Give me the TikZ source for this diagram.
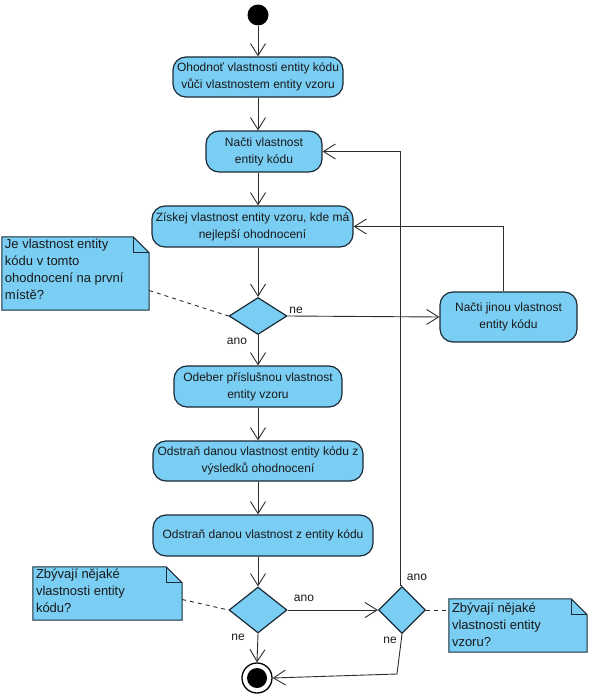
\documentclass[tikz,border=0pt]{standalone}
\usepackage{fontspec}
\setmainfont{Liberation Sans}
\usetikzlibrary{shapes.geometric,arrows.meta,calc}
\definecolor{fillc}{RGB}{122,205,243}
\definecolor{edgec}{RGB}{26,42,54}
\definecolor{linec}{RGB}{45,45,45}
\definecolor{txtc}{RGB}{25,25,25}
\begin{document}
\begin{tikzpicture}[x=1pt,y=-1pt,
  act/.style={draw=edgec, line width=1.2pt, fill=fillc, rounded corners=13pt, align=center,
    font=\fontsize{12}{17}\selectfont, text=txtc, inner sep=0pt},
  dec/.style={draw=edgec, line width=1.2pt, fill=fillc, diamond, inner sep=0pt},
  flow/.style={draw=linec, line width=0.9pt, -{Straight Barb[length=12pt,width=15pt,line width=0.9pt]}},
  lbl/.style={font=\fontsize{12}{14}\selectfont, text=txtc, inner sep=0pt},
  notebg/.style={inner sep=0pt},
  noteline/.style={draw=edgec, line width=1pt, fill=fillc},
  notetxt/.style={font=\fontsize{13}{17}\selectfont, align=left, anchor=north west, inner sep=0pt, text=txtc},
  notelink/.style={draw=linec, line width=0.9pt, dash pattern=on 4pt off 4pt}]
\useasboundingbox (0,0) rectangle (593,700);
\coordinate (axis) at (258,0);

% start / end
\node[circle, fill=black, minimum size=21pt, inner sep=0pt] (st) at (258,15) {};
\node[circle, draw=black, line width=1.3pt, fill=white, minimum size=30pt, inner sep=0pt] (en) at (257,678) {};
\node[circle, fill=black, minimum size=20pt, inner sep=0pt] (enin) at (en) {};

% activities
\node[act, minimum width=170pt, minimum height=40pt] (b1) at (258,77) {Ohodnoť vlastnosti entity kódu\\vůči vlastnostem entity vzoru};
\node[act, minimum width=116pt, minimum height=41pt] (b2) at (264,151.5) {Načti vlastnost\\entity kódu};
\node[act, minimum width=201pt, minimum height=41pt] (b3) at (252.5,226.5) {Získej vlastnost entity vzoru, kde má\\nejlepší ohodnocení};
\node[act, minimum width=137pt, minimum height=50pt] (b4) at (508.5,317) {Načti jinou vlastnost\\entity kódu};
\node[act, minimum width=168pt, minimum height=41pt] (b5) at (258,386.5) {Odeber příslušnou vlastnost\\entity vzoru};
\node[act, minimum width=210pt, minimum height=40pt] (b6) at (258,461) {Odstraň danou vlastnost entity kódu z\\výsledků ohodnocení};
\node[act, minimum width=220pt, minimum height=41pt] (b7) at (263,535.5) {Odstraň danou vlastnost z entity kódu};

% decisions
\node[dec, minimum width=58pt, minimum height=37pt] (d1) at (258,316) {};
\node[dec, minimum width=58pt, minimum height=46pt] (d2) at (258,610) {};
\node[dec, minimum width=47pt, minimum height=47pt] (d3) at (402,610) {};

% notes
\node[notebg, minimum width=147pt, minimum height=73pt] (n1) at (75.5,273.5) {};
\draw[noteline] (n1.south west) -- (n1.north west) -- ([xshift=-16pt]n1.north east) -- ([yshift=-16pt]n1.north east) -- (n1.south east) -- cycle;
\draw[noteline, fill=none] ([xshift=-16pt]n1.north east) |- ([yshift=-16pt]n1.north east);
\node[notetxt] at ([xshift=3pt,yshift=-2pt]n1.north west) {Je vlastnost entity\\kódu v tomto\\ohodnocení na první\\místě?};

\node[notebg, minimum width=149pt, minimum height=53pt] (n2) at (107.5,593.5) {};
\draw[noteline] (n2.south west) -- (n2.north west) -- ([xshift=-16pt]n2.north east) -- ([yshift=-16pt]n2.north east) -- (n2.south east) -- cycle;
\draw[noteline, fill=none] ([xshift=-16pt]n2.north east) |- ([yshift=-16pt]n2.north east);
\node[notetxt] at ([xshift=3pt,yshift=-2pt]n2.north west) {Zbývají nějaké\\vlastnosti entity\\kódu?};

\node[notebg, minimum width=138pt, minimum height=53pt] (n3) at (518,625.5) {};
\draw[noteline] (n3.south west) -- (n3.north west) -- ([xshift=-16pt]n3.north east) -- ([yshift=-16pt]n3.north east) -- (n3.south east) -- cycle;
\draw[noteline, fill=none] ([xshift=-16pt]n3.north east) |- ([yshift=-16pt]n3.north east);
\node[notetxt] at ([xshift=3pt,yshift=-4pt]n3.north west) {Zbývají nějaké\\vlastnosti entity\\vzoru?};

% note links
\draw[notelink] ([yshift=-17pt]n1.east) -- (d1.west);
\draw[notelink] ([yshift=-6pt]n2.east) -- (d2.west);
\draw[notelink] (d3.east) -- (n3.west |- d3.east);

% flows
\draw[flow] (st) -- (b1);
\draw[flow] (b1.south -| axis) -- (b2.north -| axis);
\draw[flow] (b2.south -| axis) -- (b3.north -| axis);
\draw[flow] (b3.south -| axis) -- (d1.north);
\draw[flow] (d1.south) -- (b5.north -| axis);
\node[lbl] (l1) at (237,341) {ano};
\draw[flow] (d1.east) -- (b4.west);
\node[lbl] (l2) at (296,310) {ne};
\coordinate (r1) at (503,226);
\draw[flow] (b4.north -| r1) |- (b3.east);
\draw[flow] (b5.south -| axis) -- (b6.north -| axis);
\draw[flow] (b6.south -| axis) -- (b7.north -| axis);
\draw[flow] (b7.south -| axis) -- (d2.north);
\draw[flow] (d2.east) -- (d3.west);
\node[lbl] (l3) at (304,598) {ano};
\draw[flow] (d2.south) -- (en.north);
\node[lbl] (l4) at (238,637) {ne};
\coordinate (r2) at (400,152);
\draw[flow] (d3.north) -- (d3.north -| r2) |- (b2.east);
\node[lbl] (l5) at (417,577) {ano};
\coordinate (r3) at (397,674);
\draw[flow] (d3.south) -- (r3) -- (en.east);
\node[lbl] (l6) at (390,640) {ne};
\end{tikzpicture}
\end{document}
